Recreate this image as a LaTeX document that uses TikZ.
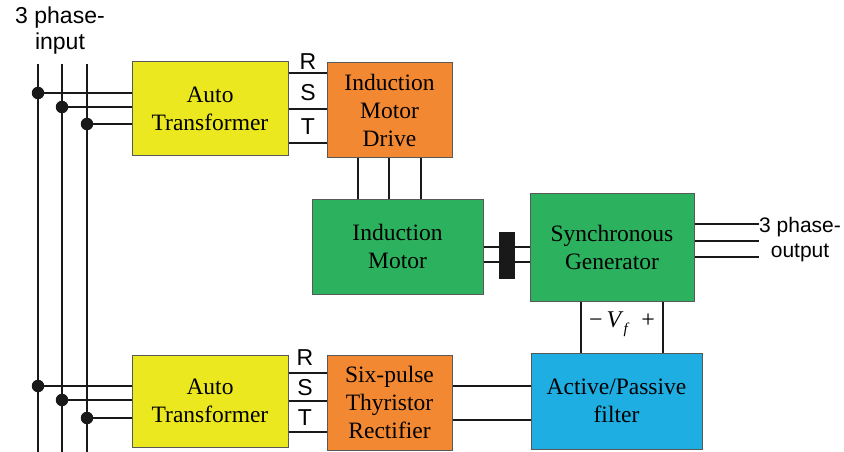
\documentclass[tikz,border=0pt]{standalone}
\usepackage{fontspec}
\setmainfont{Liberation Serif}
\setsansfont{Liberation Sans}
\usepackage{xcolor}
\usepackage{tikz}

\definecolor{atyellow}{RGB}{236,232,32}
\definecolor{drvorange}{RGB}{243,136,50}
\definecolor{machgreen}{RGB}{44,178,94}
\definecolor{filtblue}{RGB}{30,174,226}

\begin{document}
\begin{tikzpicture}[x=1pt,y=-1pt,
        block/.style={draw=black!65,line width=1pt,align=center,inner sep=0pt,
                font=\fontsize{23.5}{28}\selectfont},
        wire/.style={line width=2.4pt,black!90},
        lbl/.style={font=\sffamily\fontsize{23}{26}\selectfont,inner sep=0pt,align=center},
        tap/.style={circle,fill=black!90,inner sep=0pt,minimum size=12.5pt}]
        \useasboundingbox (0,0) rectangle (844,452);

        \node[block,fill=atyellow,minimum width=156pt,minimum height=93pt] (AT1) at (210,108.5) {Auto\\Transformer};
        \node[block,fill=drvorange,minimum width=125pt,minimum height=95pt] (D) at (389.5,110) {Induction\\Motor\\Drive};
        \node[block,fill=machgreen,minimum width=171pt,minimum height=95pt] (M) at (397.5,246.5) {Induction\\Motor};
        \node[block,fill=machgreen,minimum width=164pt,minimum height=108pt] (G) at (612,247) {Synchronous\\Generator};
        \node[block,fill=filtblue,minimum width=171pt,minimum height=96pt] (F) at (616.5,401) {Active/Passive\\filter};
        \node[block,fill=atyellow,minimum width=156pt,minimum height=92pt] (AT2) at (210,401) {Auto\\Transformer};
        \node[block,fill=drvorange,minimum width=125pt,minimum height=95pt] (R) at (389.5,402.5) {Six-pulse\\Thyristor\\Rectifier};

        \node[lbl] (in) at (60,31) {3 phase-\\input};
        \node[lbl,font=\sffamily\fontsize{21}{25}\selectfont,anchor=west] (out) at (759,240) {3 phase-\\output};

        % supply bus
        \foreach \x in {38,62,87} {
                \coordinate (bt\x) at (\x,64);
                \coordinate (bb\x) at (\x,452);
                \draw[wire] (bt\x) -- (bb\x);
        }
        \foreach \x/\ya/\yb in {38/93/386,62/107/400,87/124/418} {
                \node[tap] (ta\x) at (\x,\ya) {};
                \node[tap] (tb\x) at (\x,\yb) {};
                \draw[wire] (ta\x) -- (ta\x -| AT1.west);
                \draw[wire] (tb\x) -- (tb\x -| AT2.west);
        }

        % R S T phases
        \foreach \y in {73,109,143}
                \draw[wire] (AT1.east |- 0,\y) -- (D.west |- 0,\y);
        \foreach \y in {373,401,432}
                \draw[wire] (AT2.east |- 0,\y) -- (R.west |- 0,\y);
        \node[lbl] (r1) at (308,62) {R};
        \node[lbl] (s1) at (308,93) {S};
        \node[lbl] (t1) at (308,127) {T};
        \node[lbl] (r2) at (305,358) {R};
        \node[lbl] (s2) at (305,388) {S};
        \node[lbl] (t2) at (305,418) {T};

        % drive to motor
        \foreach \x in {358,389,421}
                \draw[wire] (D.south -| \x,0) -- (M.north -| \x,0);

        % shaft and coupling
        \foreach \y in {247,262}
                \draw[wire] (M.east |- 0,\y) -- (G.west |- 0,\y);
        \node[fill=black!90,minimum width=16pt,minimum height=47pt,inner sep=0pt] (C) at (507,255.5) {};

        % generator output
        \foreach \y in {224,241,257}
                \draw[wire] (G.east |- 0,\y) -- (out.west |- 0,\y);

        % field supply
        \foreach \x in {581,663}
                \draw[wire] (G.south -| \x,0) -- (F.north -| \x,0);
        \node[font=\fontsize{24}{28}\selectfont,inner sep=0pt] (vf) at (622,324)
                {−\,\textit{V}\raisebox{-0.5ex}{\fontsize{15}{15}\selectfont\textit{f}}\ \ +};

        % rectifier to filter
        \foreach \y in {386,420}
                \draw[wire] (R.east |- 0,\y) -- (F.west |- 0,\y);
\end{tikzpicture}
\end{document}
